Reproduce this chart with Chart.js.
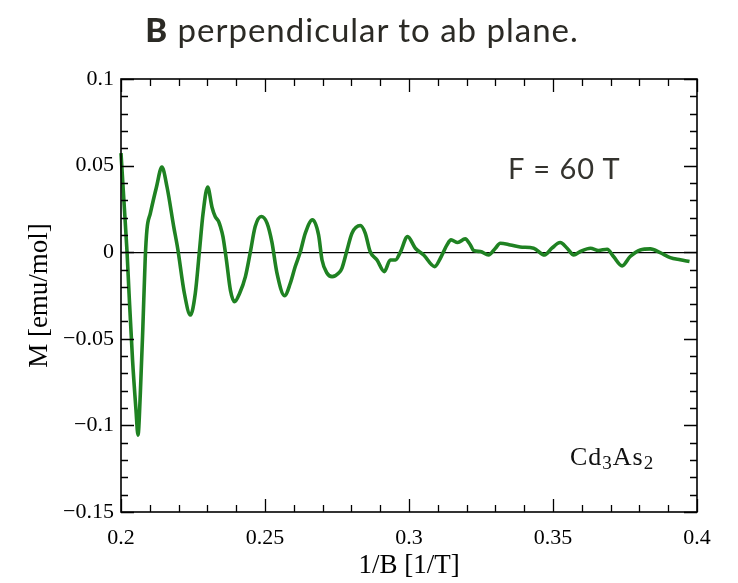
<!DOCTYPE html>
<html>
<head>
<meta charset="utf-8">
<script src="https://cdn.jsdelivr.net/npm/chart.js@4.4.1/dist/chart.umd.min.js"></script>
<style>
  body { margin: 0; background: #fff; }
  #wrap { position: relative; width: 738px; height: 583px; }
  #chart { position: absolute; left: 0; top: 0; }
  .title {
    position: absolute; left: -7px; width: 738px; top: 9px; text-align: center;
    font-family: Lato, sans-serif; font-size: 33px; letter-spacing: 1px;
    color: #2b2a25; white-space: nowrap;
  }
  .title b { font-weight: 900; }
  .freq {
    position: absolute; left: 508px; top: 150px;
    font-family: Lato, sans-serif; font-size: 29px; letter-spacing: 1px; color: #34332e;
  }
  .compound {
    position: absolute; left: 570px; top: 442px;
    font-family: "Liberation Serif", serif; font-size: 26px; letter-spacing: 1px; color: #111;
  }
  .compound sub { font-size: 19px; vertical-align: -4px; }
</style>
</head>
<body>
<div id="wrap">
  <canvas id="chart" width="738" height="583"></canvas>
  <div class="title"><b>B</b> perpendicular to ab plane.</div>
  <div class="freq">F = 60 T</div>
  <div class="compound">Cd<sub>3</sub>As<sub>2</sub></div>
</div>
<script>
// magnetisation oscillation vs inverse field
const invB = [
  0.2000, 0.2010, 0.2021, 0.2028, 0.2040, 0.2052, 0.2059, 0.2067, 0.2076, 0.2084,
  0.2090, 0.2102, 0.2123, 0.2142, 0.2160, 0.2183, 0.2197, 0.2220, 0.2241, 0.2258,
  0.2272, 0.2285, 0.2301, 0.2316, 0.2327, 0.2339, 0.2345, 0.2354, 0.2366, 0.2380,
  0.2394, 0.2412, 0.2432, 0.2449, 0.2466, 0.2487, 0.2507, 0.2524, 0.2541, 0.2568,
  0.2588, 0.2605, 0.2623, 0.2640, 0.2665, 0.2686, 0.2698, 0.2715, 0.2733, 0.2756,
  0.2767, 0.2785, 0.2802, 0.2831, 0.2848, 0.2865, 0.2889, 0.2914, 0.2935, 0.2953,
  0.2970, 0.2995, 0.3022, 0.3051, 0.3089, 0.3109, 0.3132, 0.3146, 0.3169, 0.3195,
  0.3213, 0.3224, 0.3248, 0.3276, 0.3300, 0.3317, 0.3352, 0.3386, 0.3433, 0.3471,
  0.3496, 0.3525, 0.3549, 0.3572, 0.3595, 0.3630, 0.3658, 0.3688, 0.3710, 0.3740,
  0.3768, 0.3803, 0.3838, 0.3872, 0.3907, 0.3942, 0.3974
];
const moment = [
  0.0572, 0.0300, 0.0000, -0.0240, -0.0620, -0.0910, -0.1056, -0.0820, -0.0430, -0.0040,
  0.0129, 0.0225, 0.0375, 0.0491, 0.0375, 0.0148, 0.0020, -0.0237, -0.0363, -0.0237,
  0.0000, 0.0225, 0.0376, 0.0260, 0.0206, 0.0177, 0.0148, 0.0090, -0.0045, -0.0220,
  -0.0286, -0.0237, -0.0141, 0.0000, 0.0148, 0.0206, 0.0168, 0.0058, -0.0116, -0.0251,
  -0.0179, -0.0083, 0.0004, 0.0110, 0.0187, 0.0100, -0.0045, -0.0120, -0.0141, -0.0120,
  -0.0093, 0.0013, 0.0110, 0.0154, 0.0110, 0.0004, -0.0045, -0.0112, -0.0045, -0.0045,
  0.0000, 0.0090, 0.0023, -0.0016, -0.0083, -0.0035, 0.0042, 0.0071, 0.0056, 0.0077,
  0.0042, 0.0010, 0.0004, -0.0016, 0.0023, 0.0052, 0.0042, 0.0030, 0.0023, -0.0016,
  0.0023, 0.0056, 0.0023, -0.0016, 0.0004, 0.0023, 0.0010, 0.0017, -0.0025, -0.0079,
  -0.0025, 0.0013, 0.0019, -0.0002, -0.0031, -0.0044, -0.0054
];

const xMajor = [0.2, 0.25, 0.3, 0.35, 0.4];
const yMajor = [-0.15, -0.1, -0.05, 0, 0.05, 0.1];
const xMinorStep = 0.01;
const yMinorStep = 0.01;

function stepTicks(min, max, step) {
  const out = [];
  const n = Math.round((max - min) / step);
  for (let i = 0; i <= n; i++) out.push({ value: Math.round((min + i * step) * 1e6) / 1e6 });
  return out;
}

function isMajor(v, majors) {
  return majors.some(m => Math.abs(m - v) < 1e-9);
}

function fmt(v) {
  return String(+v.toFixed(2)).replace('-', '\u2212');
}

// inward ticks on all four sides plus the frame
const frameTicks = {
  id: 'frameTicks',
  afterDatasetsDraw(chart) {
    const { ctx, chartArea: a, scales } = chart;
    ctx.save();
    ctx.strokeStyle = '#000';
    ctx.lineWidth = 1.3;
    ctx.beginPath();
    scales.x.ticks.forEach(t => {
      const px = Math.round(scales.x.getPixelForValue(t.value)) + 0.5;
      const len = isMajor(t.value, xMajor) ? 13 : 7;
      ctx.moveTo(px, a.bottom); ctx.lineTo(px, a.bottom - len);
      ctx.moveTo(px, a.top); ctx.lineTo(px, a.top + len);
    });
    scales.y.ticks.forEach(t => {
      const py = Math.round(scales.y.getPixelForValue(t.value)) + 0.5;
      const len = isMajor(t.value, yMajor) ? 13 : 7;
      ctx.moveTo(a.left, py); ctx.lineTo(a.left + len, py);
      ctx.moveTo(a.right, py); ctx.lineTo(a.right - len, py);
    });
    ctx.stroke();
    ctx.lineWidth = 1.6;
    ctx.strokeRect(a.left, a.top, a.right - a.left, a.bottom - a.top);
    ctx.restore();
  }
};

const serif = { family: '"Liberation Serif", "Times New Roman", serif' };

new Chart(document.getElementById('chart'), {
  type: 'scatter',
  data: {
    datasets: [{
      data: invB.map((x, i) => ({ x, y: moment[i] })),
      showLine: true,
      borderColor: '#1f8222',
      borderWidth: 3.6,
      pointRadius: 0,
      cubicInterpolationMode: 'monotone',
      clip: false
    }]
  },
  options: {
    responsive: false,
    animation: false,
    layout: { padding: { top: 79, right: 41, left: 0, bottom: 0 } },
    plugins: { legend: { display: false }, tooltip: { enabled: false } },
    scales: {
      x: {
        type: 'linear',
        min: 0.2, max: 0.4,
        afterFit: s => { s.height = 71; },
        afterBuildTicks: s => { s.ticks = stepTicks(0.2, 0.4, xMinorStep); },
        border: { display: false },
        grid: { display: false, drawTicks: false },
        ticks: {
          autoSkip: false, maxRotation: 0, padding: 13, color: '#000',
          font: { ...serif, size: 22 },
          callback: v => isMajor(v, xMajor) ? fmt(v) : ''
        },
        title: {
          display: true, text: '1/B [1/T]', color: '#000',
          font: { ...serif, size: 27 }, padding: { top: 0, bottom: 1 }
        }
      },
      y: {
        type: 'linear',
        min: -0.15, max: 0.1,
        afterFit: s => { s.width = 121; },
        afterBuildTicks: s => { s.ticks = stepTicks(-0.15, 0.1, yMinorStep); },
        border: { display: false },
        grid: {
          drawTicks: false,
          lineWidth: 1.3,
          color: c => (c.tick && Math.abs(c.tick.value) < 1e-9) ? '#000' : 'rgba(0,0,0,0)'
        },
        ticks: {
          autoSkip: false, padding: 7, color: '#000',
          font: { ...serif, size: 22 },
          callback: v => isMajor(v, yMajor) ? fmt(v) : ''
        },
        title: {
          display: true, text: 'M [emu/mol]', color: '#000',
          font: { ...serif, size: 27 }, padding: { top: 24, bottom: 0 }
        }
      }
    }
  },
  plugins: [frameTicks]
});
</script>
</body>
</html>
